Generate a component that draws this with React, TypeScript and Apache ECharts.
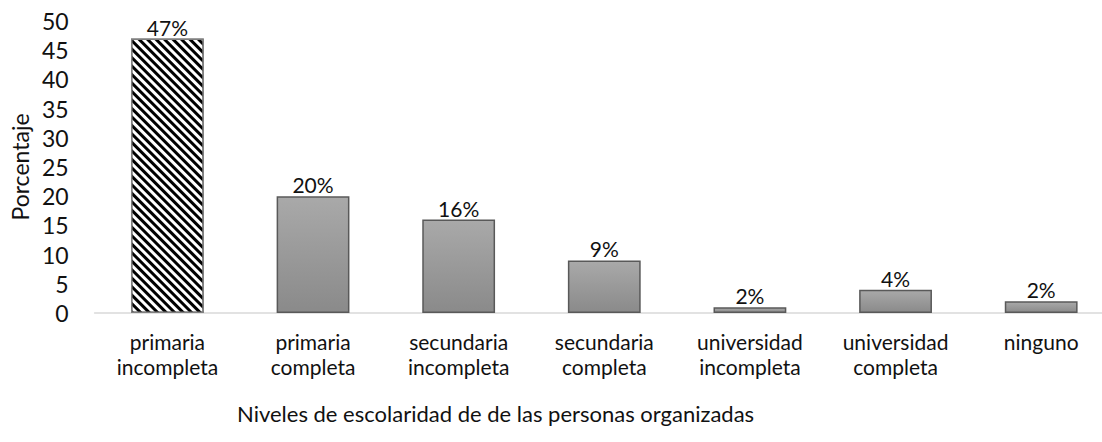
import React, { useEffect, useRef } from "react";
import * as echarts from "echarts";

const categories = [
  "primaria\nincompleta",
  "primaria\ncompleta",
  "secundaria\nincompleta",
  "secundaria\ncompleta",
  "universidad\nincompleta",
  "universidad\ncompleta",
  "ninguno",
];
const values = [47, 20, 16, 9, 1, 4, 2];
const valueLabels = ["47%", "20%", "16%", "9%", "2%", "4%", "2%"];
const yTicks = { min: 0, max: 50, interval: 5 };
const yName = "Porcentaje";
const xName = "Niveles de escolaridad de de las personas organizadas";

const FONT = "Lato, 'Open Sans', sans-serif";

export default function App() {
  const ref = useRef<HTMLDivElement>(null);
  useEffect(() => {
    if (!ref.current) return;
    const chart = echarts.init(ref.current, undefined, { renderer: "svg" });
    const grayFill = new echarts.graphic.LinearGradient(0, 0, 0, 1, [
      { offset: 0, color: "#a9a9a9" },
      { offset: 1, color: "#8a8a8a" },
    ]);
    const data = values.map((v, i) => {
      if (i === 0) {
        return {
          value: v,
          itemStyle: {
            color: "#ffffff",
            borderColor: "#7f7f7f",
            borderWidth: 1.5,
            decal: {
              symbol: "rect",
              symbolSize: 1,
              color: "#000000",
              dashArrayX: [1, 0],
              dashArrayY: [2.3, 2.3],
              rotation: Math.PI / 4,
            },
          },
        };
      }
      return { value: v };
    });
    chart.setOption({
      animation: false,
      textStyle: { fontFamily: FONT },
      grid: { left: 93, right: 6, top: 21, bottom: 129, containLabel: false },
      title: {
        text: xName,
        left: 232,
        top: 397,
        textStyle: { fontFamily: FONT, fontSize: 22, fontWeight: "normal", color: "#111" },
      },
      xAxis: {
        type: "category",
        data: categories,
        axisLine: { show: true, lineStyle: { color: "#d9d9d9", width: 1.5 } },
        axisTick: { show: false },
        axisLabel: {
          interval: 0,
          margin: 16,
          fontFamily: FONT,
          fontSize: 21,
          lineHeight: 25,
          color: "#111",
        },
      },
      yAxis: {
        type: "value",
        min: yTicks.min,
        max: yTicks.max,
        interval: yTicks.interval,
        name: yName,
        nameLocation: "middle",
        nameGap: 63,
        nameTextStyle: { fontFamily: FONT, fontSize: 23, color: "#111" },
        axisLine: { show: false },
        axisTick: { show: false },
        splitLine: { show: false },
        axisLabel: { margin: 26, fontFamily: FONT, fontSize: 23, color: "#111" },
      },
      series: [
        {
          type: "bar",
          data,
          barWidth: "50%",
          itemStyle: { color: grayFill, borderColor: "#595959", borderWidth: 1.5 },
          label: {
            show: true,
            position: "top",
            distance: 1,
            fontFamily: FONT,
            fontSize: 21,
            color: "#111",
            formatter: (p: any) => valueLabels[p.dataIndex],
          },
        },
      ],
    });
    return () => chart.dispose();
  }, []);
  return (
    <div style={{ position: "absolute", left: 0, top: 0, width: 1102, height: 442, overflow: "hidden" }}>
      <div ref={ref} style={{ width: 1120, height: 442 }} />
    </div>
  );
}
